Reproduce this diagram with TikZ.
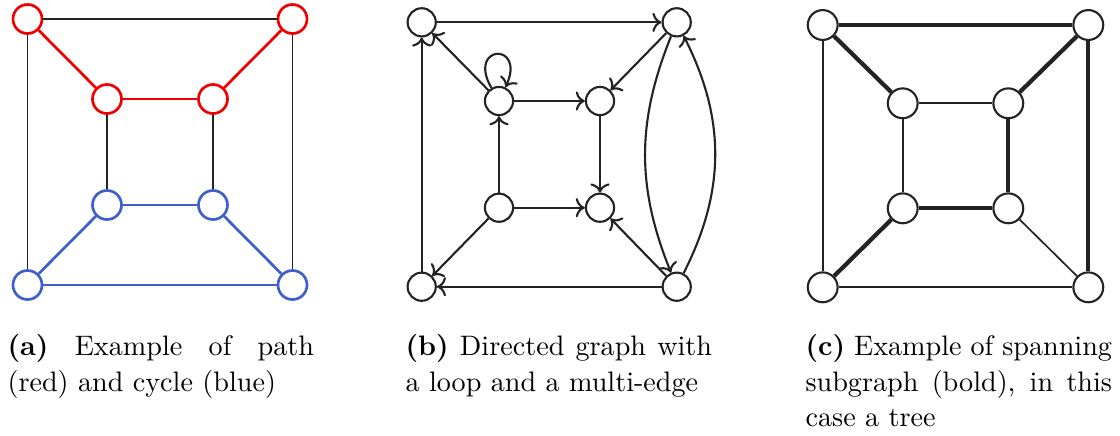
\documentclass[tikz,border=0pt]{standalone}
\usetikzlibrary{arrows.meta}
\definecolor{pathred}{RGB}{240,0,0}
\definecolor{cycblue}{RGB}{62,96,200}
\definecolor{edgegray}{RGB}{35,35,35}
\newlength\capw
\setlength\capw{108.8pt}
\begin{document}
\begin{tikzpicture}[x=0.355pt,y=-0.355pt,
  va/.style={circle,inner sep=0pt,minimum size=10.3pt,line width=0.95pt,fill=white},
  vred/.style={va,draw=pathred},
  vblue/.style={va,draw=cycblue},
  ea/.style={line width=0.7pt,draw=edgegray},
  ered/.style={line width=0.95pt,draw=pathred},
  eblue/.style={line width=0.95pt,draw=cycblue},
  vb/.style={circle,draw=edgegray,inner sep=0pt,minimum size=10pt,line width=0.75pt},
  arr/.style={->,line width=0.75pt,draw=edgegray},
  vc/.style={circle,draw=edgegray,inner sep=0pt,minimum size=10.6pt,line width=0.75pt},
  thinedge/.style={line width=0.6pt,draw=edgegray},
  boldedge/.style={line width=1.5pt,draw=edgegray},
  capt/.style={anchor=north west,inner sep=0pt,align=left,font=\fontsize{10}{12.6}\selectfont}
]
\useasboundingbox (0,0) rectangle (1120,435);

% ---------- (a) ----------
\node[vred]  (atl) at (27.5,19) {};
\node[vred]  (atr) at (292.5,19) {};
\node[vred]  (aitl) at (107,99) {};
\node[vred]  (aitr) at (213,99) {};
\node[vblue] (aibl) at (107,205) {};
\node[vblue] (aibr) at (213,205) {};
\node[vblue] (abl) at (27.5,285) {};
\node[vblue] (abr) at (292.5,285) {};
\draw[ea] (atl) -- (atr);
\draw[ea] (atl) -- (abl);
\draw[ea] (atr) -- (abr);
\draw[ea] (aitl) -- (aibl);
\draw[ea] (aitr) -- (aibr);
\draw[ered] (atl) -- (aitl);
\draw[ered] (aitl) -- (aitr);
\draw[ered] (aitr) -- (atr);
\draw[eblue] (aibl) -- (aibr);
\draw[eblue] (aibl) -- (abl);
\draw[eblue] (aibr) -- (abr);
\draw[eblue] (abl) -- (abr);

% ---------- (b) ----------
\node[vb] (btl) at (421.7,22.3) {};
\node[vb] (btr) at (676.7,22.3) {};
\node[vb] (bitl) at (499,101) {};
\node[vb] (bitr) at (600,101) {};
\node[vb] (bibl) at (499,207.7) {};
\node[vb] (bibr) at (600,207.7) {};
\node[vb] (bbl) at (421.7,286.7) {};
\node[vb] (bbr) at (676.7,286.7) {};
\draw[arr] (btl) -- (btr);
\draw[arr] (bbl) -- (btl);
\draw[arr] (bbr) -- (bbl);
\draw[arr] (bitl) -- (btl);
\draw[arr] (bitl) to[out=120,in=65,looseness=8,min distance=6.3mm] (bitl);
\draw[arr] (bitl) -- (bitr);
\draw[arr] (bibl) -- (bitl);
\draw[arr] (bibl) -- (bibr);
\draw[arr] (bibl) -- (bbl);
\draw[arr] (bitr) -- (bibr);
\draw[arr] (btr) -- (bitr);
\draw[arr] (bbr) -- (bibr);
\draw[arr] (btr) to[bend right=22] (bbr);
\draw[arr] (bbr) to[bend right=27] (btr);

% ---------- (c) ----------
\node[vc] (ctl) at (822.7,25) {};
\node[vc] (ctr) at (1088.3,25) {};
\node[vc] (citl) at (902.7,103.3) {};
\node[vc] (citr) at (1008.3,103.3) {};
\node[vc] (cibl) at (902.7,208.3) {};
\node[vc] (cibr) at (1008.3,208.3) {};
\node[vc] (cbl) at (822.7,287.3) {};
\node[vc] (cbr) at (1088.3,287.3) {};
\draw[boldedge] (ctl) -- (ctr);
\draw[boldedge] (ctl) -- (citl);
\draw[boldedge] (ctr) -- (citr);
\draw[boldedge] (ctr) -- (cbr);
\draw[boldedge] (citr) -- (cibr);
\draw[boldedge] (cibl) -- (cibr);
\draw[boldedge] (cibl) -- (cbl);
\draw[thinedge] (ctl) -- (cbl);
\draw[thinedge] (citl) -- (citr);
\draw[thinedge] (citl) -- (cibl);
\draw[thinedge] (cibr) -- (cbr);
\draw[thinedge] (cbl) -- (cbr);

% ---------- captions ----------
\node[capt] (capa) at (7,334) {\hbox to\capw{\textbf{(a)} Example of path}\\(red) and cycle (blue)};
\node[capt] (capb) at (405,334) {\hbox to\capw{\textbf{(b)} Directed graph with}\\a loop and a multi-edge};
\node[capt] (capc) at (805,334) {\hbox to\capw{\textbf{(c)} Example of spanning}\\\hbox to\capw{subgraph (bold), in this}\\case a tree};
\end{tikzpicture}
\end{document}
